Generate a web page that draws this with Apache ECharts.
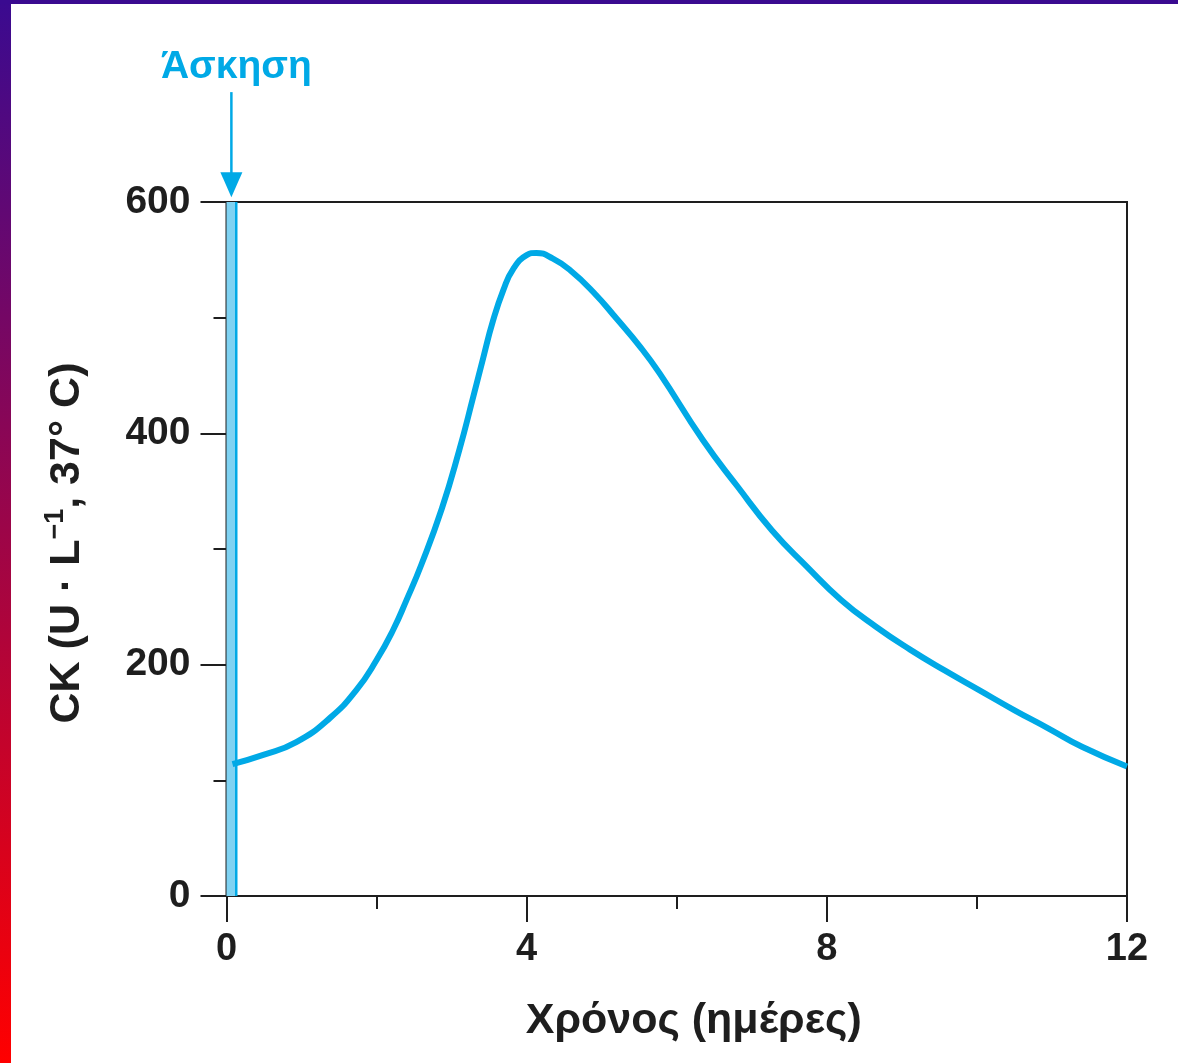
<!DOCTYPE html>
<html>
<head>
<meta charset="utf-8">
<script src="https://cdn.jsdelivr.net/npm/echarts@6/dist/echarts.min.js"></script>
<style>
html,body{margin:0;padding:0;background:#fff;}
#wrap{position:relative;width:1178px;height:1063px;overflow:hidden;}
#left{position:absolute;left:0;top:0;width:11px;height:1063px;background:linear-gradient(#3a0a90,#ff0000);}
#top{position:absolute;left:0;top:0;width:1178px;height:4px;background:#3a0a90;}
#chart{position:absolute;left:0;top:0;width:1178px;height:1063px;}
</style>
</head>
<body>
<div id="wrap"><div id="chart"></div><div id="left"></div><div id="top"></div></div>
<script>
// Data
var days = [0.08, 0.49, 0.93, 1.38, 1.73, 2.0, 2.22, 2.4, 2.6, 2.87, 3.1, 3.29, 3.42, 3.55, 3.69, 3.82, 4.0, 4.13, 4.35, 4.58, 4.89, 5.2, 5.51, 5.77, 6.35, 6.81, 7.27, 7.73, 8.19, 8.65, 9.11, 9.57, 10.03, 10.49, 10.95, 11.4, 12];
var ck = [114, 122, 133, 154, 178, 204, 230, 256, 287, 335, 385, 432, 465, 497, 524, 542, 554, 556, 551, 541, 522, 499, 475, 452, 394, 354, 316, 285, 256, 233, 213, 195, 178, 161, 145, 129, 112];
var exerciseStart = 0;
var exerciseEnd = 0.13;
var arrowX = 0.065;
var arrowFrom = 695;
var arrowTo = 604;
var exerciseLabel = 'Άσκηση';
var xTitle = 'Χρόνος (ημέρες)';
var yTitleParts = ['CK (U · L', '−1', ', 37° C)'];

var BLUE = '#00a9e6';
var INK = '#1e1e1e';
var FONT = '"Liberation Sans", Arial, sans-serif';

var lineData = days.map(function (d, i) { return [d, ck[i]]; });

var chart = echarts.init(document.getElementById('chart'));
chart.setOption({
  animation: false,
  backgroundColor: '#fff',
  grid: { left: 226.5, right: 51, top: 202, bottom: 167, show: true, borderColor: INK, borderWidth: 2, backgroundColor: 'transparent' },
  xAxis: {
    type: 'value', min: 0, max: 12, interval: 4,
    name: xTitle, nameLocation: 'middle', nameGap: 104,
    nameTextStyle: { fontFamily: FONT, fontWeight: 'bold', fontSize: 43, color: INK, padding: [0, 0, 0, 34] },
    axisLine: { show: true, lineStyle: { color: INK, width: 2 } },
    axisTick: { show: true, length: 26, lineStyle: { color: INK, width: 2 } },
    minorTick: { show: true, splitNumber: 2, length: 13, lineStyle: { color: INK, width: 2 } },
    splitLine: { show: false },
    axisLabel: { margin: 35, fontFamily: FONT, fontWeight: 'bold', fontSize: 38, color: INK }
  },
  yAxis: {
    type: 'value', min: 0, max: 600, interval: 200,
    name: '{a|' + yTitleParts[0] + '}{s|' + yTitleParts[1] + '}{a|' + yTitleParts[2] + '}',
    nameLocation: 'middle', nameGap: 138, nameRotate: 90,
    nameTextStyle: {
      fontFamily: FONT, fontWeight: 'bold', fontSize: 43, color: INK, padding: [0, 0, 0, 12],
      rich: {
        a: { fontFamily: FONT, fontWeight: 'bold', fontSize: 43, color: INK, lineHeight: 46, verticalAlign: 'bottom' },
        s: { fontFamily: FONT, fontWeight: 'bold', fontSize: 27, color: INK, lineHeight: 46, verticalAlign: 'top', padding: [0, 0, 14, 0] }
      }
    },
    axisLine: { show: true, lineStyle: { color: INK, width: 2 } },
    axisTick: { show: true, length: 26, lineStyle: { color: INK, width: 2 } },
    minorTick: { show: true, splitNumber: 2, length: 13, lineStyle: { color: INK, width: 2 } },
    splitLine: { show: false },
    axisLabel: { margin: 36, fontFamily: FONT, fontWeight: 'bold', fontSize: 39, color: INK }
  },
  series: [{
    type: 'line',
    data: lineData,
    smooth: 0.5,
    symbol: 'none',
    clip: false,
    lineStyle: { color: BLUE, width: 6 },
    z: 5,
    markArea: {
      silent: true,
      itemStyle: { color: '#7fd2f2', borderWidth: 0 },
      data: [[{ coord: [exerciseStart, 0] }, { coord: [exerciseEnd, 600] }]]
    }
  }, {
    type: 'line',
    data: [[exerciseEnd, 0], [exerciseEnd, 600]],
    symbol: 'none',
    lineStyle: { color: BLUE, width: 2.5 },
    z: 4
  }]
});

// Arrow + label pointing at the exercise bout, placed via the chart's own scales
var p0 = chart.convertToPixel({ gridIndex: 0 }, [arrowX, arrowFrom]);
var p1 = chart.convertToPixel({ gridIndex: 0 }, [arrowX, arrowTo]);
var headH = 25, headW = 22;
chart.setOption({
  graphic: [
    { type: 'line', shape: { x1: p0[0], y1: p0[1], x2: p1[0], y2: p1[1] - headH + 2 }, style: { stroke: BLUE, lineWidth: 2.5 }, z: 10 },
    { type: 'polygon', shape: { points: [[p1[0] - headW / 2, p1[1] - headH], [p1[0] + headW / 2, p1[1] - headH], [p1[0], p1[1]]] }, style: { fill: BLUE }, z: 10 },
    { type: 'text', x: p0[0] + 5, y: p0[1] - 5, style: { text: exerciseLabel, fill: BLUE, font: 'bold 39px ' + FONT, textAlign: 'center', textVerticalAlign: 'bottom' }, z: 10 }
  ]
});
</script>
</body>
</html>
